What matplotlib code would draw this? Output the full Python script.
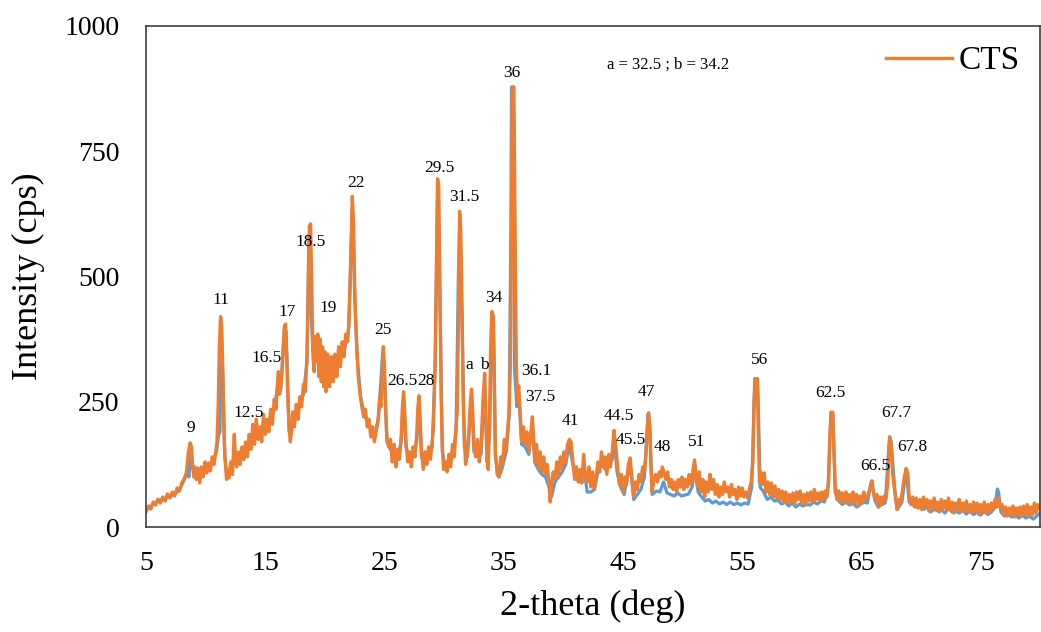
import matplotlib.pyplot as plt

plt.rcParams['font.family'] = ['Liberation Serif', 'DejaVu Serif']

# CTS pattern (orange)
cts_x = [
    5.0, 5.2, 5.4, 5.6, 5.8, 6.0, 6.2, 6.4, 6.6, 6.8, 7.0, 7.2, 7.4, 7.6, 7.8, 8.0, 8.2,
    8.4, 8.55, 8.7, 8.8, 8.9, 9.0, 9.1,
    9.2, 9.35, 9.5, 9.65, 9.8, 9.95, 10.1, 10.25, 10.4, 10.55, 10.7, 10.85,
    10.95, 11.05, 11.15, 11.25, 11.35, 11.45, 11.55, 11.65, 11.75, 11.85,
    11.95, 12.1, 12.25, 12.4, 12.5, 12.6, 12.75, 12.9, 13.05, 13.2,
    13.35, 13.5, 13.65, 13.8, 13.95, 14.1, 14.25, 14.4, 14.55, 14.7, 14.85, 15.0,
    15.15, 15.3, 15.45, 15.6, 15.75, 15.9,
    16.0, 16.1, 16.2, 16.35, 16.5, 16.6, 16.7, 16.8, 16.9, 17.0, 17.1, 17.2,
    17.3, 17.45, 17.6, 17.75, 17.9, 18.05, 18.2, 18.35, 18.5,
    18.6, 18.7, 18.8, 18.9, 19.0, 19.1,
    19.2, 19.3, 19.4, 19.5, 19.6, 19.7, 19.8, 19.9, 20.0, 20.1, 20.25, 20.4, 20.55,
    20.7, 20.85, 21.0, 21.15, 21.3, 21.45, 21.6, 21.75, 21.9, 22.0,
    22.1, 22.2, 22.3, 22.4, 22.5, 22.6, 22.7,
    22.8, 22.95, 23.1, 23.25, 23.4, 23.55, 23.7, 23.85, 24.0, 24.15, 24.3, 24.45, 24.6,
    24.7, 24.8, 24.9, 25.0, 25.1, 25.2, 25.35,
    25.5, 25.65, 25.8, 25.95, 26.1, 26.25, 26.4,
    26.5, 26.6, 26.7, 26.8, 26.95, 27.1, 27.25, 27.4, 27.55, 27.7,
    27.8, 27.9, 28.0, 28.1, 28.25, 28.4, 28.55, 28.7, 28.85, 29.0,
    29.1, 29.25, 29.35, 29.45, 29.55, 29.65, 29.75, 29.85, 29.95, 30.1,
    30.25, 30.4, 30.55, 30.7, 30.85, 31.0, 31.1,
    31.2, 31.3, 31.4, 31.5, 31.6, 31.7, 31.8,
    31.95, 32.1, 32.2, 32.3, 32.4, 32.5, 32.65, 32.8, 32.95,
    33.1, 33.25, 33.4, 33.5, 33.6, 33.7,
    33.8, 33.9, 34.0, 34.1, 34.2, 34.3, 34.45, 34.6, 34.75, 34.9,
    35.05, 35.2, 35.35, 35.45, 35.55, 35.65, 35.72, 35.85, 35.95, 36.05, 36.15,
    36.25, 36.35, 36.5, 36.65, 36.8,
    36.95, 37.1, 37.25, 37.4, 37.5, 37.6, 37.75, 37.9, 38.05, 38.2, 38.35, 38.5,
    38.65, 38.8, 38.9, 39.0, 39.15, 39.3, 39.45, 39.6, 39.75, 39.9, 40.05,
    40.2, 40.35, 40.5, 40.65, 40.8, 40.95, 41.1, 41.25, 41.4, 41.55, 41.7, 41.85,
    42.0, 42.15, 42.3, 42.45, 42.6,
    42.75, 42.9, 43.05, 43.2, 43.35, 43.5, 43.65, 43.8, 43.95, 44.1, 44.25, 44.4,
    44.55, 44.7, 44.85, 45.0,
    45.15, 45.3, 45.45, 45.6, 45.75, 45.9, 46.05, 46.2, 46.35, 46.5, 46.65, 46.8, 46.95,
    47.05, 47.15, 47.25, 47.35, 47.45, 47.6,
    47.75, 47.9, 48.05, 48.2, 48.3, 48.45, 48.6, 48.75, 48.9, 49.05, 49.2, 49.35,
    49.5, 49.65, 49.8, 49.95, 50.1, 50.25, 50.4, 50.55, 50.7,
    50.85, 51.0, 51.1, 51.25, 51.4, 51.55, 51.7, 51.85, 52.0, 52.15, 52.3, 52.45,
    52.6, 52.75, 52.9, 53.05, 53.2, 53.35, 53.5, 53.65, 53.8, 53.95, 54.1, 54.25,
    54.4, 54.55, 54.7, 54.85, 55.0, 55.15, 55.3, 55.45, 55.6,
    55.75, 55.9, 56.0, 56.1, 56.25, 56.35, 56.45, 56.55, 56.7, 56.85, 57.0, 57.15,
    57.3, 57.45, 57.6, 57.75, 57.9, 58.05, 58.2, 58.35, 58.5, 58.65, 58.8, 58.95,
    59.1, 59.25, 59.4, 59.55, 59.7, 59.85, 60.0, 60.15, 60.3, 60.45, 60.6, 60.75,
    60.9, 61.05, 61.2, 61.35, 61.5, 61.65, 61.8, 61.95, 62.1, 62.25,
    62.35, 62.45, 62.6, 62.7, 62.8, 62.95, 63.1, 63.25, 63.4, 63.55, 63.7, 63.85,
    64.0, 64.15, 64.3, 64.45, 64.6, 64.75, 64.9, 65.05, 65.2, 65.35, 65.5,
    65.7, 65.85, 66.0, 66.15, 66.3, 66.45, 66.6, 66.75, 66.9, 67.05, 67.2,
    67.3, 67.4, 67.5, 67.6, 67.7, 67.85, 68.0, 68.15, 68.3, 68.45,
    68.6, 68.75, 68.9, 69.0, 69.15, 69.3,
    69.45, 69.6, 69.75, 69.9, 70.05, 70.2, 70.35, 70.5, 70.65, 70.8, 70.95, 71.1,
    71.25, 71.4, 71.55, 71.7, 71.85, 72.0, 72.15, 72.3, 72.45, 72.6, 72.75, 72.9,
    73.05, 73.2, 73.35, 73.5, 73.65, 73.8, 73.95, 74.1, 74.25, 74.4, 74.55, 74.7,
    74.85, 75.0, 75.15, 75.3, 75.45, 75.6, 75.75, 75.9, 76.05, 76.2, 76.35, 76.5,
    76.65, 76.8, 76.95, 77.1, 77.25, 77.4, 77.55, 77.7, 77.85, 78.0, 78.15, 78.3,
    78.45, 78.6, 78.75, 78.9, 79.05, 79.2, 79.35, 79.5, 79.65, 79.8, 80.0,
]
cts_y = [
    30, 42, 36, 50, 44, 56, 48, 60, 52, 66, 58, 70, 62, 78, 72, 88, 96,
    110, 150, 168, 160, 125, 100, 120,
    95, 118, 88, 120, 100, 130, 108, 128, 112, 140, 125, 150,
    170, 240, 360, 420, 400, 300, 180, 130, 95, 110,
    98, 130, 105, 185, 135, 120, 150, 125, 160, 135,
    170, 140, 185, 155, 205, 165, 215, 175, 200, 170, 225, 185,
    215, 190, 235, 205, 255, 235,
    280, 310, 265, 290, 350, 400, 405, 340, 250, 200, 170, 190,
    230, 200, 245, 215, 260, 240, 285, 270, 340,
    470, 600, 605, 480, 340, 310,
    380, 330, 385, 300, 375, 290, 360, 280, 350, 270, 345, 280, 340,
    290, 345, 300, 360, 320, 370, 340, 385, 370, 400,
    470, 560, 660, 610, 480, 400, 350,
    300, 265, 240, 220, 235, 200, 215, 180, 200, 170, 190, 210, 260,
    240, 300, 360, 320, 230, 180, 160,
    175, 130, 165, 120, 155, 135, 180,
    240, 270, 230, 170, 130, 150, 120, 160, 140, 185,
    240, 262, 210, 150, 115, 150, 125, 160, 135, 170,
    200, 330, 520, 695, 680, 480, 260, 160, 115, 130,
    110, 145, 120, 165, 140, 200, 230,
    400, 630, 590, 440, 250, 180, 125,
    150, 200, 250, 275, 230, 160, 140, 175, 130,
    160, 250, 307, 220, 140, 115,
    200, 360, 430, 420, 300, 150, 105, 100, 140, 125,
    175, 150, 200, 230, 320, 600, 878, 878, 600, 330, 250,
    282, 240, 170, 200, 165,
    190, 150, 180, 220, 180, 130, 165, 120, 150, 110, 140, 105,
    125, 85, 50, 85, 110, 95, 130, 105, 140, 115, 150,
    130, 165, 175, 170, 130, 95, 120, 90, 115, 88, 145, 100,
    90, 120, 80, 110, 75,
    100, 130, 110, 150, 120, 140, 105, 145, 120, 150, 193, 160,
    120, 85, 105, 70,
    100, 85, 125, 138, 100, 60, 90, 75, 105, 90, 120, 110, 150,
    200, 228, 200, 120, 70, 95,
    105, 90, 110, 100, 120, 108, 95, 110, 80, 95, 75, 90,
    70, 95, 80, 100, 75, 95, 80, 105, 85,
    110, 134, 100, 80, 110, 70, 95, 60, 90, 70, 105, 75,
    95, 65, 85, 60, 80, 65, 90, 70, 80, 60, 85, 65,
    75, 55, 80, 62, 78, 60, 70, 58, 75,
    90, 130, 250, 296, 296, 200, 90, 110, 85, 108, 70, 90,
    65, 88, 60, 82, 58, 75, 55, 72, 50, 70, 48, 65,
    50, 68, 45, 70, 55, 72, 48, 65, 45, 68, 52, 70,
    50, 75, 55, 68, 52, 70, 55, 72, 60, 90,
    180, 229, 229, 150, 80, 55, 72, 50, 68, 48, 70, 52,
    65, 45, 70, 50, 65, 42, 62, 48, 70, 55, 60,
    75, 92, 70, 55, 65, 40, 60, 45, 62, 55, 85,
    150, 180, 160, 110, 90, 60, 35, 55, 50, 75,
    100, 117, 105, 60, 45, 60,
    40, 58, 38, 55, 35, 60, 40, 55, 32, 52, 38, 58,
    35, 50, 30, 55, 38, 52, 32, 58, 35, 50, 28, 48,
    35, 55, 30, 48, 33, 52, 30, 45, 28, 50, 32, 48,
    25, 45, 30, 50, 28, 45, 30, 48, 35, 55, 40, 60,
    38, 45, 25, 40, 22, 38, 25, 42, 20, 38, 25, 40,
    22, 42, 25, 45, 22, 40, 25, 48, 28, 45, 35,
]

# second pattern (blue), mostly hidden under the orange one
blue_x = [
    5.0, 5.3, 5.6, 5.9, 6.2, 6.5, 6.8, 7.1, 7.4, 7.7, 8.0, 8.3, 8.5, 8.6, 8.75, 8.9,
    9.1, 9.4, 9.7, 10.0, 10.3, 10.6, 10.9, 11.1, 11.2, 11.3, 11.45, 11.6, 11.8,
    12.1, 12.4, 12.7, 13.0, 13.3, 13.6, 13.9, 14.2, 14.5, 14.8, 15.1, 15.4, 15.7,
    16.0, 16.3, 16.6, 16.75, 17.0, 17.3, 17.6, 17.9, 18.2, 18.5, 18.65, 18.75,
    18.85, 19.0, 19.2, 19.4, 19.6, 19.8, 20.1, 20.4, 20.7, 21.0, 21.3, 21.6, 21.9,
    22.0, 22.3, 22.5, 22.7, 23.0, 23.3, 23.6, 23.9, 24.2, 24.5, 24.85, 25.0, 25.2,
    25.5, 25.8, 26.1, 26.4, 26.6, 26.8, 27.1, 27.4, 27.7, 27.9, 28.1, 28.4, 28.7,
    29.0, 29.25, 29.45, 29.65, 29.85, 30.1, 30.4, 30.7, 31.0, 31.2, 31.3, 31.5,
    31.7, 31.95, 32.3, 32.5, 32.8, 33.1, 33.4, 33.6, 33.8, 34.05, 34.15, 34.3,
    34.6, 34.9, 35.2, 35.45, 35.6, 35.65, 35.8, 35.9, 36.1, 36.25, 36.5, 36.8,
    37.1, 37.4, 37.6, 37.9, 38.2, 38.5, 38.8, 39.0, 39.3, 39.6, 39.9, 40.2, 40.5,
    40.8, 41.1, 41.4, 41.7, 42.0, 42.3, 42.6, 42.9, 43.2, 43.5, 43.8, 44.1, 44.25,
    44.5, 44.8, 45.1, 45.45, 45.6, 45.9, 46.2, 46.5, 46.8, 47.1, 47.25, 47.45,
    47.8, 48.1, 48.4, 48.7, 49.0, 49.3, 49.6, 49.9, 50.2, 50.5, 50.8, 51.05, 51.3,
    51.6, 51.9, 52.2, 52.5, 52.8, 53.1, 53.4, 53.7, 54.0, 54.3, 54.6, 54.9, 55.2,
    55.5, 55.8, 56.05, 56.3, 56.5, 56.8, 57.1, 57.4, 57.7, 58.0, 58.3, 58.6, 58.9,
    59.2, 59.5, 59.8, 60.1, 60.4, 60.7, 61.0, 61.3, 61.6, 61.9, 62.2, 62.45, 62.6,
    62.8, 63.1, 63.4, 63.7, 64.0, 64.3, 64.6, 64.9, 65.2, 65.5, 65.8, 65.9, 66.1,
    66.4, 66.7, 67.0, 67.35, 67.5, 67.8, 68.0, 68.4, 68.75, 69.0, 69.3, 69.6, 69.9,
    70.2, 70.5, 70.8, 71.1, 71.4, 71.7, 72.0, 72.3, 72.6, 72.9, 73.2, 73.5, 73.8,
    74.1, 74.4, 74.7, 75.0, 75.3, 75.6, 75.9, 76.2, 76.4, 76.5, 76.7, 77.0, 77.3,
    77.6, 77.9, 78.2, 78.5, 78.8, 79.1, 79.4, 79.7, 80.0,
]
blue_y = [
    35, 40, 46, 50, 52, 56, 60, 62, 66, 72, 84, 100, 110, 100, 150, 118,
    105, 100, 110, 112, 118, 130, 150, 185, 190, 400, 290, 140, 100,
    120, 140, 135, 145, 150, 160, 180, 185, 185, 195, 200, 210, 230,
    275, 275, 395, 390, 190, 215, 225, 245, 265, 330, 580, 590,
    420, 350, 380, 330, 350, 310, 300, 305, 310, 320, 340, 350, 380,
    400, 640, 460, 340, 260, 225, 210, 195, 185, 220, 350, 300, 170,
    155, 145, 140, 170, 255, 160, 135, 145, 170, 250, 140, 130, 140,
    160, 320, 670, 450, 150, 120, 130, 140, 190, 509, 600, 420,
    160, 140, 260, 150, 150, 145, 290, 130, 180, 428, 420, 140,
    100, 120, 150, 220, 600, 878, 878, 320, 240, 270, 165, 160,
    145, 210, 130, 115, 105, 100, 80, 60, 90, 100, 110, 125, 165,
    125, 100, 90, 120, 70, 70, 75, 110, 130, 115, 120, 135, 180,
    110, 80, 65, 110, 125, 55, 65, 75, 100, 226, 200, 65,
    72, 70, 90, 68, 65, 62, 68, 62, 64, 66, 80, 125, 70,
    60, 52, 55, 48, 52, 46, 50, 45, 50, 45, 48, 44, 48,
    46, 80, 296, 296, 80, 70, 55, 60, 52, 54, 46, 50, 42,
    48, 40, 46, 42, 45, 44, 50, 46, 52, 50, 80, 229, 225,
    70, 52, 45, 50, 44, 48, 40, 45, 50, 48, 88, 92, 55,
    40, 45, 48, 180, 170, 75, 35, 50, 115, 50, 45, 40, 42,
    35, 40, 30, 36, 32, 35, 28, 38, 30, 32, 28, 34, 26,
    32, 25, 30, 24, 32, 25, 30, 40, 76, 70, 30, 22, 28,
    20, 25, 18, 24, 18, 22, 16, 22, 28,
]

# peak labels
peak_labels = ['9', '11', '12.5', '16.5', '17', '18.5', '19', '22', '25', '26.5', '28',
               '29.5', '31.5', 'a', 'b', '34', '36', '36.1', '37.5', '41', '44.5',
               '45.5', '47', '48', '51', '56', '62.5', '66.5', '67.7', '67.8']
label_x = [8.77, 11.3, 13.63, 15.14, 16.82, 18.83, 20.26, 22.6, 24.87, 26.46, 28.47,
           29.56, 31.66, 32.07, 33.4, 34.17, 35.68, 37.69, 38.1, 40.62, 44.65,
           45.65, 46.99, 48.34, 51.19, 56.47, 62.42, 66.19, 67.95, 69.29]
label_y = [198, 453, 228, 337, 429, 569, 437, 687, 393, 291, 291,
           717, 659, 323, 323, 457, 906, 311, 259, 212, 222,
           174, 269, 160, 170, 333, 267, 122, 228, 160]

fig = plt.figure(figsize=(10.41, 6.32), dpi=100)
ax = fig.add_axes([0.1403, 0.166, 0.859, 0.793])

ax.plot(blue_x, blue_y, color='#5B9BD5', lw=2.3)
ax.plot(cts_x, cts_y, color='#ED7D31', lw=2.4, label='CTS')

for t, x, y in zip(peak_labels, label_x, label_y):
    ax.text(x, y, t, ha='center', va='center', fontsize=12.5)

ax.text(48.75, 922, 'a = 32.5 ; b = 34.2', ha='center', va='center', fontsize=12)

ax.set_xlim(5, 80)
ax.set_ylim(0, 1000)
ax.set_xticks(range(5, 80, 10))
ax.set_yticks([0, 250, 500, 750, 1000])
ax.tick_params(length=0, labelsize=20)
ax.tick_params(axis='y', pad=19)
ax.tick_params(axis='x', pad=17)
for s in ax.spines.values():
    s.set_color('#404040')
    s.set_linewidth(1.2)

ax.set_xlabel('2-theta (deg)', fontsize=26, labelpad=10)
ax.set_ylabel('Intensity (cps)', fontsize=26, labelpad=14)

ax.legend(loc='upper right', frameon=False, fontsize=24, handlelength=2.0,
          handletextpad=0.2, borderaxespad=0.2)

fig.savefig('out.png', dpi=100)
